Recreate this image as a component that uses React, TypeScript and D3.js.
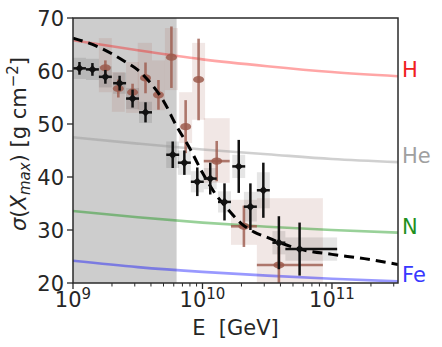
import React from "react";
import * as d3 from "d3";

const W = 442;
const H = 347;
const plot = { left: 73, right: 398, top: 18, bottom: 283 };
const FONT = "DejaVu Sans, sans-serif";

// Expected sigma(Xmax) for pure primaries, on a lg(E/GeV) grid
const modelLgE = [9, 9.5, 10, 10.5, 11, 11.51];
const sigmaH = [65.8, 63.9, 62.2, 60.9, 59.8, 59.0];
const sigmaHe = [47.5, 46.3, 45.2, 44.3, 43.4, 42.8];
const sigmaN = [33.6, 32.4, 31.4, 30.6, 30.0, 29.5];
const sigmaFe = [24.2, 23.0, 22.1, 21.4, 20.8, 20.3];

// Mixed-composition fit (dashed)
const fitLgE = [9.0, 9.2, 9.4, 9.5, 9.6, 9.7, 9.8, 9.9, 10.0, 10.1, 10.2, 10.3, 10.4, 10.5, 10.6, 10.75, 11.0, 11.25, 11.51];
const fitSigma = [66.2, 64.5, 61.8, 60.2, 57.7, 54.3, 49.6, 45.5, 40.8, 36.8, 33.8, 31.2, 29.6, 28.6, 27.6, 26.4, 25.4, 24.6, 23.5];

// Dataset A (black): lg(E/GeV), sigma, stat. and syst. uncertainties, energy bins
const blackLgE = [9.05, 9.15, 9.25, 9.36, 9.46, 9.56, 9.77, 9.86, 9.96, 10.06, 10.17, 10.28, 10.37, 10.47, 10.59, 10.75];
const blackSigma = [60.5, 60.3, 58.9, 57.7, 54.8, 52.2, 44.2, 42.7, 39.1, 39.7, 35.3, 42.0, 34.4, 37.5, 27.6, 26.4];
const blackStat = [1.2, 1.2, 1.3, 1.4, 1.7, 1.9, 2.5, 2.3, 2.7, 3.0, 3.5, 5.0, 4.4, 5.2, 5.0, 5.0];
const blackSys = [2.0, 2.0, 2.0, 2.0, 2.0, 2.0, 2.5, 2.3, 2.0, 2.0, 2.0, 2.2, 2.8, 3.4, 2.2, 2.2];
const blackBinLo = [9.0, 9.1, 9.2, 9.31, 9.41, 9.51, 9.72, 9.81, 9.91, 10.01, 10.12, 10.23, 10.32, 10.42, 10.54, 10.64];
const blackBinHi = [9.1, 9.2, 9.3, 9.41, 9.51, 9.61, 9.82, 9.91, 10.01, 10.11, 10.22, 10.33, 10.42, 10.52, 10.64, 11.04];

// Dataset B (brown): lg(E/GeV), sigma, stat. uncertainty, syst. band, energy errors and bins
const brownLgE = [9.25, 9.35, 9.46, 9.56, 9.66, 9.76, 9.87, 9.97, 10.11, 10.32, 10.59];
const brownSigma = [60.6, 56.7, 56.0, 58.7, 55.5, 62.6, 49.5, 58.4, 43.0, 30.7, 23.4];
const brownStat = [1.4, 1.7, 1.6, 2.9, 2.8, 5.8, 5.0, 7.7, 3.8, 3.9, 3.4];
const brownSysHi = [66.2, 59.8, 61.7, 65.3, 62.0, 68.1, 56.0, 65.3, 51.1, 35.7, 36.0];
const brownSysLo = [56.0, 52.3, 52.1, 52.6, 52.6, 56.4, 46.4, 50.8, 38.9, 27.2, 18.7];
const brownErrLo = [9.25, 9.35, 9.46, 9.56, 9.66, 9.76, 9.87, 9.97, 10.01, 10.22, 10.42];
const brownErrHi = [9.25, 9.35, 9.46, 9.56, 9.66, 9.76, 9.87, 9.97, 10.21, 10.42, 10.93];
const brownBinLo = [9.2, 9.3, 9.41, 9.5, 9.61, 9.71, 9.82, 9.92, 10.01, 10.22, 10.42];
const brownBinHi = [9.3, 9.4, 9.51, 9.61, 9.71, 9.81, 9.92, 10.02, 10.21, 10.42, 10.93];

// Region covered by the low-energy extension
const shadeLgE = [9.0, 9.8];

const yTicks = [20, 30, 40, 50, 60, 70];
const xMajorExp = [9, 10, 11];

const primaries = [
  { name: "H", values: sigmaH, line: "rgba(255,0,0,0.35)", text: "#f02020" },
  { name: "He", values: sigmaHe, line: "rgba(150,150,150,0.45)", text: "#a0a0a0" },
  { name: "N", values: sigmaN, line: "rgba(0,140,0,0.4)", text: "#1e901e" },
  { name: "Fe", values: sigmaFe, line: "rgba(0,0,255,0.4)", text: "#3838ff" },
];

export default function App() {
  const x = d3
    .scaleLog()
    .domain([1e9, Math.pow(10, 11.51)])
    .range([plot.left, plot.right]);
  const y = d3.scaleLinear().domain([20, 70]).range([plot.bottom, plot.top]);
  const X = (lg: number) => x(Math.pow(10, lg));

  const curve = d3
    .line<[number, number]>()
    .x((d) => X(d[0]))
    .y((d) => y(d[1]))
    .curve(d3.curveMonotoneX);

  const minorTicks = x
    .ticks(30)
    .filter((v) => {
      const lg = Math.log10(v);
      return Math.abs(lg - Math.round(lg)) > 1e-6;
    });

  const diamond = (cx: number, cy: number, r: number) =>
    `M${cx},${cy - r}L${cx + r},${cy}L${cx},${cy + r}L${cx - r},${cy}Z`;

  return (
    <svg
      width={W}
      height={H}
      style={{ position: "absolute", left: 0, top: 0, background: "#fff" }}
      fontFamily={FONT}
    >
      <defs>
        <clipPath id="plotArea">
          <rect
            x={plot.left}
            y={plot.top}
            width={plot.right - plot.left}
            height={plot.bottom - plot.top}
          />
        </clipPath>
      </defs>

      <g clipPath="url(#plotArea)">
        {/* shaded low-energy range */}
        <rect
          x={X(shadeLgE[0])}
          y={plot.top}
          width={X(shadeLgE[1]) - X(shadeLgE[0])}
          height={plot.bottom - plot.top}
          fill="#cdcdcd"
        />

        {/* systematic boxes, dataset B */}
        {brownLgE.map((_, i) => (
          <rect
            key={`bb${i}`}
            x={X(brownBinLo[i])}
            width={X(brownBinHi[i]) - X(brownBinLo[i])}
            y={y(brownSysHi[i])}
            height={y(brownSysLo[i]) - y(brownSysHi[i])}
            fill="rgb(170,110,100)"
            fillOpacity={0.17}
          />
        ))}

        {/* systematic boxes, dataset A */}
        {blackLgE.map((_, i) => (
          <rect
            key={`kb${i}`}
            x={X(blackBinLo[i])}
            width={X(blackBinHi[i]) - X(blackBinLo[i])}
            y={y(blackSigma[i] + blackSys[i])}
            height={y(blackSigma[i] - blackSys[i]) - y(blackSigma[i] + blackSys[i])}
            fill="#000"
            fillOpacity={0.1}
          />
        ))}

        {/* pure-primary expectations */}
        {primaries.map((p) => (
          <path
            key={p.name}
            d={curve(modelLgE.map((lg, i) => [lg, p.values[i]]) as [number, number][]) || ""}
            fill="none"
            stroke={p.line}
            strokeWidth={2.6}
          />
        ))}

        {/* dataset B */}
        {brownLgE.map((lg, i) => {
          const cx = X(lg);
          const cy = y(brownSigma[i]);
          return (
            <g key={`b${i}`} stroke="#9c5a4c" strokeOpacity={0.8} strokeWidth={2.6}>
              <line x1={cx} x2={cx} y1={y(brownSigma[i] + brownStat[i])} y2={y(brownSigma[i] - brownStat[i])} />
              {brownErrHi[i] > brownErrLo[i] && (
                <line x1={X(brownErrLo[i])} x2={X(brownErrHi[i])} y1={cy} y2={cy} />
              )}
              <ellipse cx={cx} cy={cy} rx={5.5} ry={3.6} fill="#9c5a4c" fillOpacity={0.85} stroke="none" />
            </g>
          );
        })}

        {/* mixed-composition fit */}
        <path
          d={curve(fitLgE.map((lg, i) => [lg, fitSigma[i]]) as [number, number][]) || ""}
          fill="none"
          stroke="#000"
          strokeWidth={3}
          strokeDasharray="10,6"
        />

        {/* dataset A */}
        {blackLgE.map((lg, i) => {
          const cx = X(lg);
          const cy = y(blackSigma[i]);
          return (
            <g key={`k${i}`} stroke="#111" strokeWidth={2.5}>
              <line x1={cx} x2={cx} y1={y(blackSigma[i] + blackStat[i])} y2={y(blackSigma[i] - blackStat[i])} />
              <line x1={X(blackBinLo[i])} x2={X(blackBinHi[i])} y1={cy} y2={cy} />
              <path d={diamond(cx, cy, 4.2)} fill="#111" stroke="none" />
            </g>
          );
        })}
      </g>

      {/* frame */}
      <rect
        x={plot.left}
        y={plot.top}
        width={plot.right - plot.left}
        height={plot.bottom - plot.top}
        fill="none"
        stroke="#2a2a2a"
        strokeWidth={1.5}
      />

      {/* y axis */}
      {yTicks.map((t) => (
        <g key={`yt${t}`}>
          <line x1={plot.left - 6} x2={plot.left} y1={y(t)} y2={y(t)} stroke="#2a2a2a" strokeWidth={1.3} />
          <text
            x={plot.left - 9}
            y={y(t)}
            dy="0.36em"
            textAnchor="end"
            fontSize={21}
            fill="#262626"
          >
            {t}
          </text>
        </g>
      ))}

      {/* x axis */}
      {minorTicks.map((v, i) => (
        <line
          key={`xm${i}`}
          x1={x(v)}
          x2={x(v)}
          y1={plot.bottom}
          y2={plot.bottom + 3.5}
          stroke="#2a2a2a"
          strokeWidth={1}
        />
      ))}
      {xMajorExp.map((e) => (
        <g key={`xt${e}`}>
          <line
            x1={X(e)}
            x2={X(e)}
            y1={plot.bottom}
            y2={plot.bottom + 6}
            stroke="#2a2a2a"
            strokeWidth={1.3}
          />
          <text x={X(e)} y={plot.bottom + 24} textAnchor="middle" fontSize={21} fill="#262626">
            <tspan>10</tspan>
            <tspan dy={-8} fontSize={15}>
              {e}
            </tspan>
          </text>
        </g>
      ))}

      <text
        x={(plot.left + plot.right) / 2}
        y={335}
        textAnchor="middle"
        fontSize={21}
        fill="#262626"
        style={{ whiteSpace: "pre" }}
      >
        {"E  [GeV]"}
      </text>

      <text
        transform={`translate(26,144) rotate(-90)`}
        textAnchor="middle"
        fontSize={21}
        fill="#262626"
      >
        <tspan fontStyle="italic">σ</tspan>
        <tspan>(</tspan>
        <tspan fontStyle="italic">X</tspan>
        <tspan fontStyle="italic" fontSize={15} dy={4}>
          max
        </tspan>
        <tspan dy={-4}>) [g cm</tspan>
        <tspan fontSize={15} dy={-8}>
          −2
        </tspan>
        <tspan dy={8}>]</tspan>
      </text>

      {/* primary labels at the right edge */}
      {primaries.map((p) => (
        <text
          key={`lab${p.name}`}
          x={plot.right + 4}
          y={y(p.values[p.values.length - 1]) + 1}
          fontSize={21}
          fill={p.text}
        >
          {p.name}
        </text>
      ))}
    </svg>
  );
}
